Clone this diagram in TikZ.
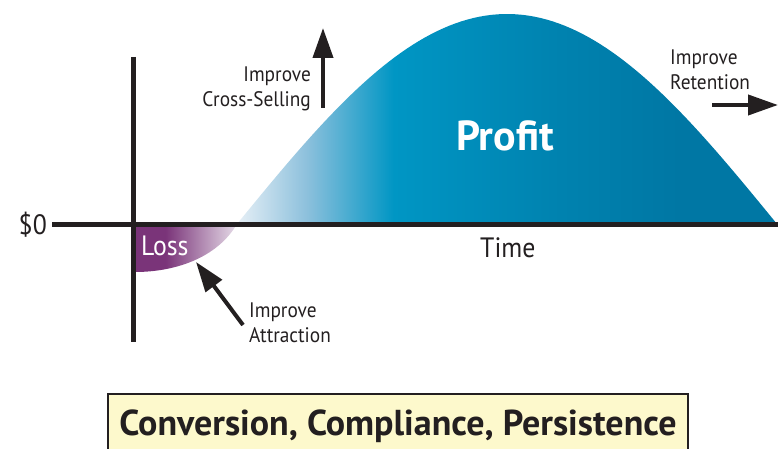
\documentclass[tikz,border=0pt]{standalone}
\usepackage{fontspec}
\setmainfont{PT Sans}
\newfontfamily\narrowfont[FakeStretch=0.92]{PT Sans}
\usepackage{xcolor}
\usepackage{tikz}
\usetikzlibrary{positioning, arrows.meta, calc}
\definecolor{axisgray}{HTML}{231F20}
\definecolor{lossdark}{HTML}{7A3479}
\definecolor{losslight}{HTML}{E6DCE8}
\definecolor{profitpale}{HTML}{E6EFF6}
\definecolor{profitsky}{HTML}{8CC0DC}
\definecolor{profitcyan}{HTML}{0096C4}
\definecolor{profitmid}{HTML}{0082AF}
\definecolor{profitdeep}{HTML}{0077A4}
\definecolor{bannerfill}{HTML}{FDF9CC}
\pgfdeclarehorizontalshading{profitshade}{100bp}{color(0bp)=(profitpale); color(25bp)=(profitpale); color(31.5bp)=(profitsky); color(39.5bp)=(profitcyan); color(55bp)=(profitmid); color(66bp)=(profitdeep); color(100bp)=(profitdeep)}
\pgfdeclarehorizontalshading{lossshade}{100bp}{color(0bp)=(lossdark); color(25bp)=(lossdark); color(40bp)=(lossdark); color(75bp)=(losslight); color(100bp)=(losslight)}
\tikzstyle{axis} = [draw=axisgray, line width=5pt]
\tikzstyle{lever} = [draw=axisgray, line width=4pt, -{Triangle[length=30pt, width=20pt]}]
\tikzstyle{note} = [font=\narrowfont\fontsize{21}{25}\selectfont, text=axisgray, inner sep=0pt]
\tikzstyle{tag} = [font=\narrowfont\fontsize{28}{32}\selectfont, text=axisgray, inner sep=0pt]
\tikzstyle{banner} = [rectangle, draw=axisgray, line width=1.5pt, fill=bannerfill, font=\bfseries\fontsize{36}{40}\selectfont, text=axisgray, minimum width=580pt, inner ysep=16pt, text height=26pt, text depth=40pt]

\begin{document}
\begin{tikzpicture}[x=1pt, y=-1pt]
        \useasboundingbox (0,0) rectangle (778,449);
        \clip (0,0) rectangle (778,449);

        % Areas
        \shade[shading=lossshade] (135,224) -- (237,224) .. controls (217,258) and (175,272) .. (135,272) -- cycle;
        \shade[shading=profitshade] (237,224) -- plot[domain=237:777, samples=90] (\x, {224-210*sin((\x-237)/3)}) -- cycle;

        % Axes
        \coordinate (yaxis_top) at (133,57);
        \coordinate (yaxis_bot) at (133,342);
        \coordinate (xaxis_left) at (52,224);
        \coordinate (xaxis_right) at (778,224);
        \path [axis] (yaxis_top) -- (yaxis_bot);
        \path [axis] (xaxis_left) -- (xaxis_right);

        % Nodes
        \node (zero) [tag, anchor=base east] at (47,234) {\$0};
        \node (loss) [tag, text=white, anchor=base west] at (141,255) {Loss};
        \node (time) [tag, anchor=base west] at (480,257) {Time};
        \node (profit) [font=\bfseries\fontsize{42}{50}\selectfont, text=white, anchor=base, inner sep=0pt] at (505,150) {Profit};

        \node (xsell) [note, align=right, anchor=north east] at (311,67) {Improve\\Cross-Selling};
        \node (retain) [note, align=left, anchor=north west] at (670,50) {Improve\\Retention};
        \node (attract) [note, align=left, anchor=north west] at (249,303) {Improve\\Attraction};

        \node (stages) [banner, anchor=north] at (398,393) {Conversion, Compliance, Persistence};

        % Levers
        \coordinate (xsell_tail) at (323,108);
        \coordinate (xsell_tip) at (323,28);
        \coordinate (retain_tail) at (712,105);
        \coordinate (retain_tip) at (778,105);
        \coordinate (attract_tail) at (243,325);
        \coordinate (attract_tip) at (196,262);
        \path [lever] (xsell_tail) -- (xsell_tip);
        \path [lever] (retain_tail) -- (retain_tip);
        \path [lever] (attract_tail) -- (attract_tip);

    \end{tikzpicture}
\end{document}
